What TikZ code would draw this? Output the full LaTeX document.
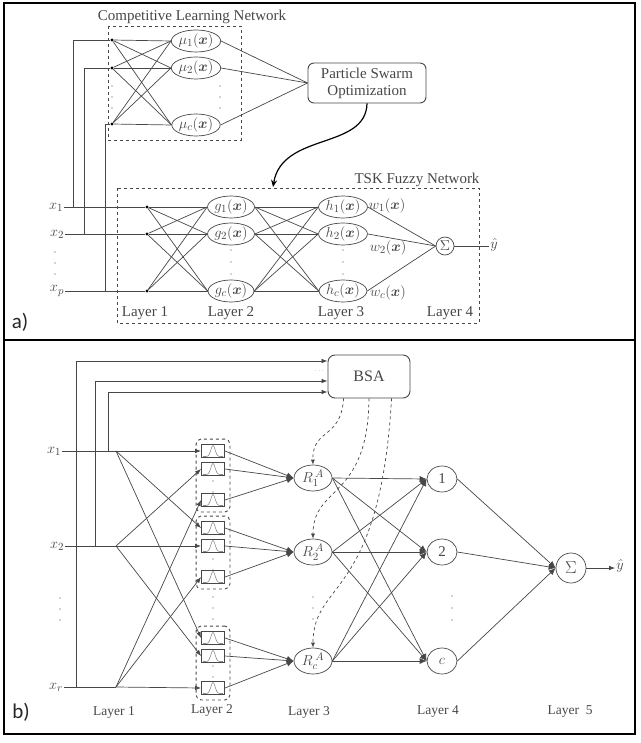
\documentclass[tikz,border=0pt]{standalone}
\usepackage{amsmath,amssymb,bm}
\usepackage{fontspec}
\setmainfont{Liberation Serif}
\newfontfamily\panelfont{Carlito}
\usepackage{xcolor}
\usepackage{tikz}
\usetikzlibrary{arrows.meta,positioning,calc,shapes.geometric,fit}

\colorlet{ink}{black!72}
\newcommand{\labsize}{\fontsize{13.5}{16}\selectfont}
\newcommand{\bigsize}{\fontsize{15}{17}\selectfont}

\begin{document}
\begin{tikzpicture}[x=1pt,y=-1pt,>=Latex,
    wire/.style={draw=ink,line width=0.7pt},
    arr/.style={wire,-{Latex[length=6pt,width=4.5pt]}},
    bigarr/.style={wire,-{Latex[length=7pt,width=6pt]}},
    neuron/.style={ellipse,draw=ink,line width=0.7pt,inner sep=0pt,minimum width=42pt,minimum height=22pt,text=ink,font=\bigsize},
    junction/.style={circle,fill=black,inner sep=0pt,minimum size=3.2pt},
    txt/.style={text=ink,font=\labsize,inner sep=1pt},
    txta/.style={txt,font=\bigsize},
    panel/.style={font=\panelfont\fontsize{21}{24}\selectfont,text=black!85},
    mfbox/.style={draw=ink,line width=0.9pt,minimum width=23pt,minimum height=13pt,inner sep=0pt},
    mfgroup/.style={draw=ink,dashed,line width=0.9pt,rounded corners=5pt,inner sep=5pt},
    ctrl/.style={draw=ink,dashed,line width=0.7pt,-{Latex[length=5pt,width=4pt]}}]
\useasboundingbox (0,0) rectangle (640,743);
\draw[line width=1.3pt] (4,3) rectangle (635,340);
\draw[line width=1.3pt] (4,340) rectangle (635,734);

% (a) competitive learning net tuned by PSO, feeding the TSK fuzzy net
\node[panel] (lbla) at (20,322) {a)};
\node[txta] (clnlbl) at (192,17) {Competitive Learning Network};
\draw[ink,dashed,line width=0.7pt] (108,26) rectangle (241,140);
\node[junction] (c1) at (112,40) {};
\node[junction] (c2) at (112,68) {};
\node[junction] (c3) at (112,124) {};
\foreach \y in {86,97,108} \fill[ink] (112,\y) circle (0.7);
\node[neuron] (mu1) at (196,41) {$\mu_1(\bm{x})$};
\node[neuron] (mu2) at (196,68) {$\mu_2(\bm{x})$};
\node[neuron] (muc) at (196,125) {$\mu_c(\bm{x})$};
\foreach \y in {86,97,108} \fill[ink] (220,\y) circle (0.7);
\foreach \c in {c1,c2,c3}
  \foreach \m in {mu1,mu2,muc}
    \draw[wire] (\c) -- (\m.west);
\node[draw=ink,line width=0.9pt,rounded corners=6pt,minimum width=118pt,minimum height=40pt,align=center,txta] (pso) at (367,83) {Particle Swarm\\Optimization};
\foreach \m in {mu1,mu2,muc}
  \draw[wire] (\m.east) -- (pso.west);

\node[txta] (tsklbl) at (417,180) {TSK Fuzzy Network};
\draw[ink,dashed,line width=0.7pt] (117,188) rectangle (479,323);
\coordinate (tsktop) at (273,187);
\draw[-{Stealth[length=7pt,width=6pt]},line width=1.2pt] (pso.south) .. controls (366,150) and (282,132) .. (tsktop);

\node[txta] (x1) at (56,207) {$x_1$};
\node[txta] (x2) at (57,234) {$x_2$};
\node[txta] (xp) at (57,291) {$x_p$};
\foreach \y in {252,263,274} \fill[ink] (55,\y) circle (0.7);
\node[junction] (l1) at (147,207) {};
\node[junction] (l2) at (147,234) {};
\node[junction] (l3) at (147,291) {};
\draw[wire] (x1.east) -- (l1);
\draw[wire] (x2.east) -- (l2);
\draw[wire] (xp.east) -- (l3);
\coordinate (t1) at (73,207);
\coordinate (t2) at (84,234);
\coordinate (t3) at (105,291);
\draw[wire] (t1) |- (c1);
\draw[wire] (t2) |- (c2);
\draw[wire] (t3) |- (c3);

\foreach \n/\y in {1/207,2/234,c/291}{
  \node[neuron] (g\n) at (231,\y) {$g_{\n}(\bm{x})$};
  \node[neuron,minimum width=41pt] (h\n) at (343,\y) {$h_{\n}(\bm{x})$};
}
\foreach \y in {250,262,274} {\fill[ink] (231,\y) circle (0.7); \fill[ink] (343,\y) circle (0.7);}
\foreach \l in {l1,l2,l3}
  \foreach \n in {1,2,c}
    \draw[wire] (\l) -- (g\n.west);
\foreach \a in {1,2,c}
  \foreach \b in {1,2,c}
    \draw[wire] (g\a.east) -- (h\b.west);
\node[circle,draw=ink,line width=0.7pt,minimum size=18pt,txt] (suma) at (445,246) {$\Sigma$};
\foreach \n in {1,2,c}
  \draw[wire] (h\n.east) -- (suma.west);
\node[txta] (ya) at (494,245) {$\hat{y}$};
\draw[wire] (suma.east) -- (ya.west |- suma.east);
\node[txta] (w1) at (387,206) {$w_1(\bm{x})$};
\node[txta] (w2) at (388,248) {$w_2(\bm{x})$};
\node[txta] (wc) at (388,293) {$w_c(\bm{x})$};

\node[txta] (la1) at (145,313) {Layer 1};
\node[txta] (la2) at (231,313) {Layer 2};
\node[txta] (la3) at (341,313) {Layer 3};
\node[txta] (la4) at (450,313) {Layer 4};

% (b) fuzzy neural net whose premise parts are set by BSA
\node[panel] (lblb) at (21,712) {b)};
\node[draw=ink,line width=0.9pt,rounded corners=7pt,minimum width=82pt,minimum height=43pt,txt,font=\fontsize{16}{18}\selectfont] (bsa) at (369,376.5) {BSA};
\node[txt,font=\tiny] (bsadots) at (320,371) {$\cdots$};

\node[txta] (in1) at (54,451) {$x_1$};
\node[txta] (in2) at (57,546) {$x_2$};
\node[txta] (inr) at (56,687) {$x_r$};
\foreach \y in {598,609,620} \fill[ink] (60,\y) circle (0.7);
\coordinate (f1) at (116,451);
\coordinate (f2) at (116,546);
\coordinate (fr) at (116,687);
\draw[wire] (in1.east) -- (f1);
\draw[wire] (in2.east) -- (f2);
\draw[wire] (inr.east) -- (fr);
\coordinate (s1) at (108,451);
\coordinate (s2) at (95,546);
\coordinate (sr) at (76,687);
\draw[arr] (sr) |- ($(bsa.west)+(0,-15.5)$);
\draw[arr] (s2) |- ($(bsa.west)+(0,4.5)$);
\draw[arr] (s1) |- ($(bsa.west)+(0,15.5)$);

\foreach \g/\ya/\yb/\yc in {1/451/469/500,2/528/546/577,3/638/656/688}{
  \node[mfbox] (m\g1) at (213,\ya) {};
  \node[mfbox] (m\g2) at (213,\yb) {};
  \node[mfbox] (m\g3) at (213,\yc) {};
  \node[mfgroup,fit=(m\g1)(m\g3)] (grp\g) {};
  \foreach \i in {1,2,3}
    \draw[black!45,line width=0.6pt,shift={(m\g\i.center)}] plot[domain=-10:10,samples=31] (\x,{5.5-11*exp(-\x*\x/9)});
}
\foreach \y in {481,492,559,570,666,677,597,608,619} \fill[ink] (213,\y) circle (0.6);

\foreach \g in {1,2,3} {
  \draw[arr] (f1) -- (m\g1.west);
  \draw[arr] (f2) -- (m\g2.west);
  \draw[arr] (fr) -- (m\g3.west);
}

\node[neuron,minimum width=38pt,minimum height=26pt] (R1) at (313,478) {$R_{1}^{\kern2pt A}$};
\node[neuron,minimum width=38pt,minimum height=26pt] (R2) at (313,552) {$R_{2}^{\kern2pt A}$};
\node[neuron,minimum width=38pt,minimum height=26pt] (R3) at (313,661) {$R_{c}^{\kern2.5pt A}$};
\foreach \y in {597,608,619} \fill[ink] (313,\y) circle (0.7);
\foreach \g in {1,2,3}
  \foreach \i in {1,2,3}
    \draw[bigarr] (m\g\i.east) -- (R\g.west);

\draw[ctrl] ($(bsa.south west)+(16,0)$) .. controls (341,440) and (312,428) .. (R1.north);
\draw[ctrl] (bsa.south) .. controls (368,500) and (313,485) .. (R2.north);
\draw[ctrl] ($(bsa.south west)+(64,0)$) .. controls (380,600) and (313,580) .. (R3.north);

\node[neuron,minimum width=30pt,minimum height=26pt] (n1) at (442,479) {1};
\node[neuron,minimum width=30pt,minimum height=26pt] (n2) at (442,552) {2};
\node[neuron,minimum width=30pt,minimum height=26pt] (n3) at (442,661) {$c$};
\foreach \y in {596,608,620} \fill[ink] (452,\y) circle (0.7);
\foreach \r in {R1,R2,R3}
  \foreach \n in {n1,n2,n3}
    \draw[bigarr] (\r.east) -- (\n.west);

\node[circle,draw=ink,line width=0.7pt,minimum size=30pt,txt,font=\fontsize{17}{19}\selectfont] (sumb) at (571,568) {$\Sigma$};
\foreach \n in {n1,n2,n3}
  \draw[bigarr] (\n.east) -- (sumb.west);
\node[txta] (yb) at (620,566) {$\hat{y}$};
\draw[arr] (sumb.east) -- (yb.west |- sumb.east);

\node[txt] (lb1) at (114,712) {Layer 1};
\node[txt] (lb2) at (212,710) {Layer 2};
\node[txt] (lb3) at (309,712) {Layer 3};
\node[txt] (lb4) at (438,712) {Layer 4};
\node[txt] (lb5) at (570,712) {Layer\ \ 5};
\end{tikzpicture}
\end{document}
